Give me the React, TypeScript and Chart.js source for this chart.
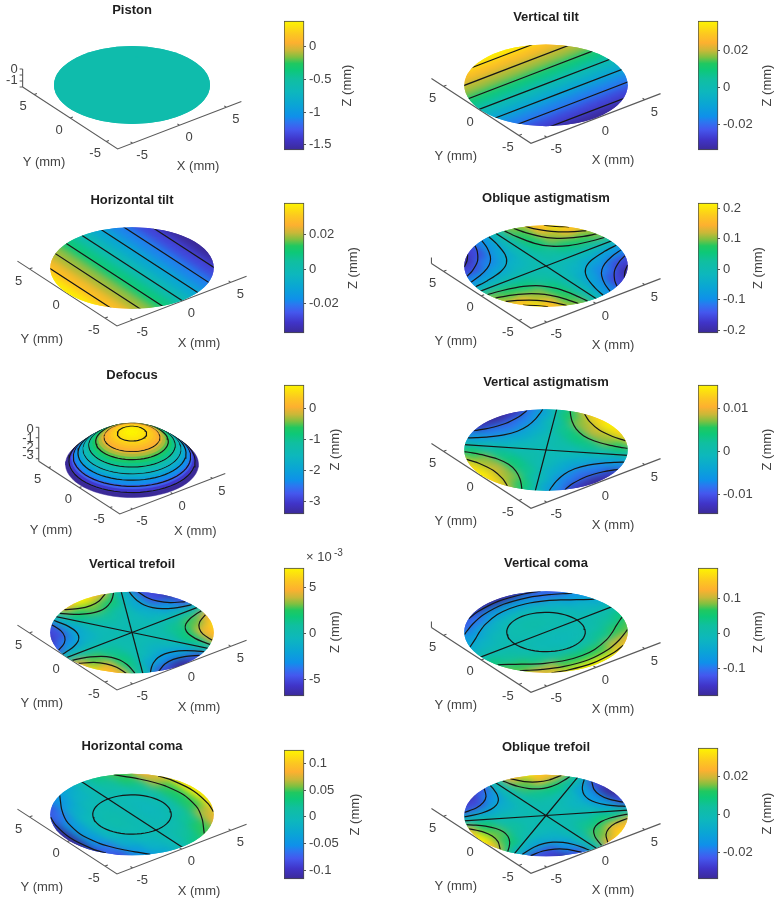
import React, { useEffect, useRef } from "react";
import { Chart, registerables } from "chart.js";

Chart.register(...registerables);

const FONT = "'Liberation Sans', Arial, sans-serif";
const TEXT = "#434343";
Chart.defaults.font.family = FONT;

const gridMm = [-6.6, -4.95, -3.3, -1.65, 0, 1.65, 3.3, 4.95, 6.6];
const coarseMm = [-6.6, 0, 6.6];
const RADIUS = 6.6;

// Z (mm) read on a grid: rows run from Y=+6.6 to Y=-6.6, columns from X=-6.6 to X=+6.6
const zPiston = [
  [-0.58, -0.58, -0.58],
  [-0.58, -0.58, -0.58],
  [-0.58, -0.58, -0.58],
];
const zVerticalTilt = [
  [.035, .035, .035, .035, .035, .035, .035, .035, .035],
  [.026, .026, .026, .026, .026, .026, .026, .026, .026],
  [.018, .018, .018, .018, .018, .018, .018, .018, .018],
  [.009, .009, .009, .009, .009, .009, .009, .009, .009],
  [0, 0, 0, 0, 0, 0, 0, 0, 0],
  [-.009, -.009, -.009, -.009, -.009, -.009, -.009, -.009, -.009],
  [-.018, -.018, -.018, -.018, -.018, -.018, -.018, -.018, -.018],
  [-.026, -.026, -.026, -.026, -.026, -.026, -.026, -.026, -.026],
  [-.035, -.035, -.035, -.035, -.035, -.035, -.035, -.035, -.035],
];
const zHorizontalTilt = [
  [.0375, .028, .019, .0095, 0, -.0095, -.019, -.028, -.0375],
  [.0375, .028, .019, .0095, 0, -.0095, -.019, -.028, -.0375],
  [.0375, .028, .019, .0095, 0, -.0095, -.019, -.028, -.0375],
  [.0375, .028, .019, .0095, 0, -.0095, -.019, -.028, -.0375],
  [.0375, .028, .019, .0095, 0, -.0095, -.019, -.028, -.0375],
  [.0375, .028, .019, .0095, 0, -.0095, -.019, -.028, -.0375],
  [.0375, .028, .019, .0095, 0, -.0095, -.019, -.028, -.0375],
  [.0375, .028, .019, .0095, 0, -.0095, -.019, -.028, -.0375],
  [.0375, .028, .019, .0095, 0, -.0095, -.019, -.028, -.0375],
];
const zObliqueAstigmatism = [
  [-.21, -.2, -.168, -.099, 0, .099, .168, .2, .21],
  [-.2, -.21, -.158, -.079, 0, .079, .158, .21, .2],
  [-.168, -.158, -.105, -.053, 0, .053, .105, .158, .168],
  [-.099, -.079, -.053, -.026, 0, .026, .053, .079, .099],
  [0, 0, 0, 0, 0, 0, 0, 0, 0],
  [.099, .079, .053, .026, 0, -.026, -.053, -.079, -.099],
  [.168, .158, .105, .053, 0, -.053, -.105, -.158, -.168],
  [.2, .21, .158, .079, 0, -.079, -.158, -.21, -.2],
  [.21, .2, .168, .099, 0, -.099, -.168, -.2, -.21],
];
const zVerticalAstigmatism = [
  [0, -.0042, -.009, -.0132, -.015, -.0132, -.009, -.0042, 0],
  [.0042, 0, -.0046, -.0075, -.0084, -.0075, -.0046, 0, .0042],
  [.009, .0046, 0, -.0029, -.0038, -.0029, 0, .0046, .009],
  [.0132, .0075, .0029, 0, -.0009, 0, .0029, .0075, .0132],
  [.015, .0084, .0038, .0009, 0, .0009, .0038, .0084, .015],
  [.0132, .0075, .0029, 0, -.0009, 0, .0029, .0075, .0132],
  [.009, .0046, 0, -.0029, -.0038, -.0029, 0, .0046, .009],
  [.0042, 0, -.0046, -.0075, -.0084, -.0075, -.0046, 0, .0042],
  [0, -.0042, -.009, -.0132, -.015, -.0132, -.009, -.0042, 0],
];
const zVerticalTrefoil = [
  [-.005, -.0024, .0013, .0052, .007, .0052, .0013, -.0024, -.005],
  [-.0065, -.005, -.001, .002, .003, .002, -.001, -.005, -.0065],
  [-.0069, -.005, -.0018, .0002, .0009, .0002, -.0018, -.005, -.0069],
  [-.0047, -.0028, -.0012, -.0002, .0001, -.0002, -.0012, -.0028, -.0047],
  [0, 0, 0, 0, 0, 0, 0, 0, 0],
  [.0047, .0028, .0012, .0002, -.0001, .0002, .0012, .0028, .0047],
  [.0069, .005, .0018, -.0002, -.0009, -.0002, .0018, .005, .0069],
  [.0065, .005, .001, -.002, -.003, -.002, .001, .005, .0065],
  [.005, .0024, -.0013, -.0052, -.007, -.0052, -.0013, .0024, .005],
];
const zObliqueTrefoil = [
  [-.0247, -.0328, -.0344, -.0234, 0, .0234, .0344, .0328, .0247],
  [-.0124, -.0247, -.0252, -.0142, 0, .0142, .0252, .0247, .0124],
  [.0062, -.0049, -.0088, -.006, 0, .006, .0088, .0049, -.0062],
  [.026, .0098, .0011, -.0011, 0, .0011, -.0011, -.0098, -.026],
  [.035, .0148, .0044, .0005, 0, -.0005, -.0044, -.0148, -.035],
  [.026, .0098, .0011, -.0011, 0, .0011, -.0011, -.0098, -.026],
  [.0062, -.0049, -.0088, -.006, 0, .006, .0088, .0049, -.0062],
  [-.0124, -.0247, -.0252, -.0142, 0, .0142, .0252, .0247, .0124],
  [-.0247, -.0328, -.0344, -.0234, 0, .0234, .0344, .0328, .0247],
];
const zVerticalComa = [
  [-.127, -.144, -.161, -.175, -.18, -.175, -.161, -.144, -.127],
  [-.108, -.127, -.102, -.069, -.058, -.069, -.102, -.127, -.108],
  [-.0805, -.068, -.032, -.01, -.002, -.01, -.032, -.068, -.0805],
  [-.044, -.023, -.005, .006, .01, .006, -.005, -.023, -.044],
  [0, 0, 0, 0, 0, 0, 0, 0, 0],
  [.044, .023, .005, -.006, -.01, -.006, .005, .023, .044],
  [.0805, .068, .032, .01, .002, .01, .032, .068, .0805],
  [.108, .127, .102, .069, .058, .069, .102, .127, .108],
  [.127, .144, .161, .175, .18, .175, .161, .144, .127],
];
const zHorizontalComa = [
  [-.085, -.072, -.054, -.029, 0, .029, .054, .072, .085],
  [-.096, -.085, -.045, -.015, 0, .015, .045, .085, .096],
  [-.107, -.068, -.021, -.003, 0, .003, .021, .068, .107],
  [-.1165, -.046, -.006, .004, 0, -.004, .006, .046, .1165],
  [-.12, -.039, -.002, .007, 0, -.007, .002, .039, .12],
  [-.1165, -.046, -.006, .004, 0, -.004, .006, .046, .1165],
  [-.107, -.068, -.021, -.003, 0, .003, .021, .068, .107],
  [-.096, -.085, -.045, -.015, 0, .015, .045, .085, .096],
  [-.085, -.072, -.054, -.029, 0, .029, .054, .072, .085],
];
// Defocus is a dome: rings of radius (mm) with their height Z (mm)
const defocusRingRadii = [6.6, 6.3, 6, 5.7, 5.4, 5.1, 4.8, 4.5, 4.2, 3.9, 3.6, 3.3, 3, 2.7, 2.4, 2.1, 1.8, 1.5, 1.2, .9, .6, .3];
const defocusRingZ = [-3.42, -3.05, -2.7, -2.36, -2.04, -1.74, -1.46, -1.19, -.94, -.71, -.49, -.29, -.11, .05, .2, .33, .44, .53, .61, .67, .72, .74];
const defocusContourRadii = [6.26, 5.82, 5.36, 4.84, 4.28, 3.6, 2.75, 1.45];
const defocusContourZ = [-3, -2.5, -2, -1.5, -1, -.5, 0, .5];

// Contour lines, in mm
const verticalTiltLinesY = [5.9, 4, 2.1, .2, -1.7, -3.6, -5.5];
const horizontalTiltLinesX = [-5.3, -3.5, -1.8, 0, 1.8, 3.5, 5.3];
const obliqueAstQuadrant = [
  [[.79, 6.55], [1, 5.2], [1.5, 3.47], [2.28, 2.28], [3.47, 1.5], [5.2, 1], [6.55, .79]],
  [[1.62, 6.4], [2, 5.2], [2.6, 4], [3.22, 3.22], [4, 2.6], [5.2, 2], [6.4, 1.62]],
  [[2.56, 6.08], [3, 5.2], [3.95, 3.95], [5.2, 3], [6.08, 2.56]],
  [[3.88, 5.34], [4.55, 4.55], [5.34, 3.88]],
];
const verticalAstLobe = [
  [[3.81, 0], [4, 1.22], [4.5, 2.4], [5, 3.24], [5.39, 3.81]],
  [[5.39, 0], [5.6, 1.54], [5.9, 2.41], [6.02, 2.7]],
];
const verticalComaLobe = [
  [[4.79, 0], [4.62, 1.41], [3.96, 3.14], [3.3, 4.22], [2.64, 5.13], [1.98, 6.1], [1.83, 6.34]],
  [[5.64, 0], [5.28, 2.32], [4.62, 3.91], [3.96, 5.04], [3.66, 5.49]],
  [[6.27, 0], [5.94, 2.4], [5.49, 3.66]],
];
const horizontalComaLobe = [
  [[5.25, 0], [4.95, 2.03], [4.62, 2.93], [3.96, 4.19], [3.3, 5.19], [2.75, 6]],
  [[6.27, 0], [5.94, 2.39], [5.48, 3.67]],
];
const comaRingRadius = 3.17;
// Trefoil lobes: [radius / rim radius, degrees from the lobe's axis]
const trefoilLobe = [
  [[.659, 0], [.691, 10], [.786, 18], [.889, 22], [1, 24.5]],
  [[.83, 0], [.87, 10], [1, 18.4]],
];
const verticalTrefoilAxes = [30, 90, 150, 210, 270, 330];
const verticalTrefoilNodes = [0, 60, 120];
const obliqueTrefoilAxes = [0, 60, 120, 180, 240, 300];
const obliqueTrefoilNodes = [30, 90, 150];

const axisTicks = [-5, 0, 5];

// Colormap: [position, colour]
const colormap: [number, string][] = [
  [0, "#3b2a98"], [.08, "#4034c8"], [.16, "#4458ee"], [.22, "#2a78f0"], [.26, "#0f90ea"],
  [.35, "#0aa5d5"], [.45, "#0db7bd"], [.55, "#10bfa0"], [.62, "#0dc878"], [.67, "#20c860"],
  [.72, "#80c040"], [.77, "#c8b838"], [.83, "#fdb030"], [.9, "#fcc820"], [1, "#fdf500"],
];

const hexRgb = (h: string) => [1, 3, 5].map((i) => parseInt(h.slice(i, i + 2), 16));
function colorAt(f: number) {
  const t = Math.min(1, Math.max(0, f));
  for (let i = 1; i < colormap.length; i++) {
    if (t <= colormap[i][0]) {
      const [p0, c0] = colormap[i - 1];
      const [p1, c1] = colormap[i];
      const k = (t - p0) / (p1 - p0);
      const a = hexRgb(c0), b = hexRgb(c1);
      return `rgb(${a.map((v, j) => Math.round(v + (b[j] - v) * k)).join(",")})`;
    }
  }
  return colormap[colormap.length - 1][1];
}

const VX = [0.793, 0.304];
const VY = [-0.609, 0.397];
const project = (X: number, Y: number) => ({ x: VX[0] * X + VY[0] * Y, y: VX[1] * X + VY[1] * Y });

type Pt = number[];
const sym = (half: Pt[]) => [...half.slice(1).reverse().map(([a, b]) => [a, -b]), ...half];
const straight = (deg: number) => {
  const c = Math.cos((deg * Math.PI) / 180) * 8, s = Math.sin((deg * Math.PI) / 180) * 8;
  return [[-c, -s], [c, s]];
};
const circle = (r: number) =>
  Array.from({ length: 61 }, (_, i) => [r * Math.cos((i * Math.PI) / 30), r * Math.sin((i * Math.PI) / 30)]);
const signs = [1, -1];

const contoursVerticalTilt = verticalTiltLinesY.map((y) => [[-8, y], [8, y]]);
const contoursHorizontalTilt = horizontalTiltLinesX.map((x) => [[x, -8], [x, 8]]);
const contoursObliqueAst = [
  straight(0), straight(90),
  ...obliqueAstQuadrant.flatMap((c) =>
    signs.flatMap((a) => signs.map((b) => c.map(([x, y]) => [a * x, b * y])))),
];
const contoursVerticalAst = [
  straight(45), straight(-45),
  ...verticalAstLobe.flatMap((h) =>
    signs.flatMap((s) => [sym(h).map(([a, b]) => [s * a, b]), sym(h).map(([a, b]) => [b, s * a])])),
];
const trefoil = (axes: number[], nodes: number[]) => [
  ...nodes.map(straight),
  ...trefoilLobe.flatMap((h) =>
    axes.map((t) =>
      sym(h).map(([r, d]) => {
        const a = ((t + d) * Math.PI) / 180;
        return [RADIUS * r * Math.cos(a), RADIUS * r * Math.sin(a)];
      }))),
];
const contoursVerticalComa = [
  straight(0), circle(comaRingRadius),
  ...verticalComaLobe.flatMap((h) => signs.map((s) => sym(h).map(([a, b]) => [b, s * a]))),
];
const contoursHorizontalComa = [
  straight(90), circle(comaRingRadius),
  ...horizontalComaLobe.flatMap((h) => signs.map((s) => sym(h).map(([a, b]) => [s * a, b]))),
];

const panels: any[] = [
  { title: "Piston", grid: coarseMm, z: zPiston, contours: [], range: [-1.58, .39], ticks: [0, -.5, -1, -1.5], tickLabels: ["0", "-0.5", "-1", "-1.5"],
    layout: { tY: 10, cx: 132, cy: 85, s: 11.82, cornerY: 149, bar: [284, 21, 150], zX: 347 },
    zAxis: { top: 18, marks: [0, 6, 12, 18], labels: [["0", 18], ["-1", 7]] } },
  { title: "Vertical tilt", grid: gridMm, z: zVerticalTilt, contours: contoursVerticalTilt, range: [-.034, .0357], ticks: [.02, 0, -.02], tickLabels: ["0.02", "0", "-0.02"],
    layout: { tY: 17, cx: 546, cy: 85.3, s: 12.38, cornerY: 143.3, bar: [698, 21, 150], zX: 767 } },
  { title: "Horizontal tilt", grid: gridMm, z: zHorizontalTilt, contours: contoursHorizontalTilt, range: [-.0368, .0383], ticks: [.02, 0, -.02], tickLabels: ["0.02", "0", "-0.02"],
    layout: { tY: 200, cx: 132, cy: 268, s: 12.38, cornerY: 326, bar: [284, 203, 333], zX: 353 } },
  { title: "Oblique astigmatism", grid: gridMm, z: zObliqueAstigmatism, contours: contoursObliqueAst, range: [-.2095, .218], ticks: [.2, .1, 0, -.1, -.2], tickLabels: ["0.2", "0.1", "0", "-0.1", "-0.2"],
    layout: { tY: 198, cx: 546, cy: 266, s: 12.38, cornerY: 328.3, bar: [698, 203, 333], zX: 758 },
    zAxis: { top: 6, marks: [], labels: [] } },
  { title: "Defocus", dome: true, range: [-3.42, .75], ticks: [0, -1, -2, -3], tickLabels: ["0", "-1", "-2", "-3"],
    layout: { tY: 375, cx: 132, cy: 461, s: 10.08, cornerY: 514, bar: [284, 385, 514], zX: 335 },
    zAxis: { top: 34, marks: [0, 10.5, 21, 31.5].map((v) => 34 - v), labels: [["0", 32], ["-1", 23], ["-2", 14], ["-3", 6]] } },
  { title: "Vertical astigmatism", grid: gridMm, z: zVerticalAstigmatism, contours: contoursVerticalAst, range: [-.01446, .01533], ticks: [.01, 0, -.01], tickLabels: ["0.01", "0", "-0.01"],
    layout: { tY: 382, cx: 546, cy: 450, s: 12.38, cornerY: 508.3, bar: [698, 385, 514], zX: 767 } },
  { title: "Vertical trefoil", grid: gridMm, z: zVerticalTrefoil, contours: trefoil(verticalTrefoilAxes, verticalTrefoilNodes), range: [-.00682, .00711], ticks: [.005, 0, -.005], tickLabels: ["5", "0", "-5"], multiplier: "-3",
    layout: { tY: 564, cx: 132, cy: 632.5, s: 12.38, cornerY: 690, bar: [284, 568, 696], zX: 335 } },
  { title: "Vertical coma", grid: gridMm, z: zVerticalComa, contours: contoursVerticalComa, range: [-.179, .186], ticks: [.1, 0, -.1], tickLabels: ["0.1", "0", "-0.1"],
    layout: { tY: 563, cx: 546, cy: 632, s: 12.38, cornerY: 692.3, bar: [698, 568, 696], zX: 758 },
    zAxis: { top: 6, marks: [], labels: [] } },
  { title: "Horizontal coma", grid: gridMm, z: zHorizontalComa, contours: contoursHorizontalComa, range: [-.1167, .125], ticks: [.1, .05, 0, -.05, -.1], tickLabels: ["0.1", "0.05", "0", "-0.05", "-0.1"],
    layout: { tY: 746, cx: 132, cy: 814.5, s: 12.38, cornerY: 874, bar: [284, 750, 879], zX: 355 } },
  { title: "Oblique trefoil", grid: gridMm, z: zObliqueTrefoil, contours: trefoil(obliqueTrefoilAxes, obliqueTrefoilNodes), range: [-.0337, .0351], ticks: [.02, 0, -.02], tickLabels: ["0.02", "0", "-0.02"],
    layout: { tY: 747, cx: 546, cy: 815.5, s: 12.38, cornerY: 873.3, bar: [698, 748, 879], zX: 767 } },
];

const CANVAS_W = 264;
const DOME_KZ = 7.8;

const spriteCache = new Map<string, HTMLCanvasElement>();
function cellSprite(color: string, stepPx: number) {
  const key = color + stepPx;
  const hit = spriteCache.get(key);
  if (hit) return hit;
  const half = stepPx / 2 * 1.06;
  const a = [VX[0] * half, VX[1] * half];
  const b = [VY[0] * half, VY[1] * half];
  const w = Math.ceil(2 * (Math.abs(a[0]) + Math.abs(b[0]))) + 2;
  const h = Math.ceil(2 * (Math.abs(a[1]) + Math.abs(b[1]))) + 2;
  const c = document.createElement("canvas");
  c.width = w; c.height = h;
  const g = c.getContext("2d")!;
  g.translate(w / 2, h / 2);
  g.fillStyle = color;
  g.beginPath();
  g.moveTo(a[0] + b[0], -(a[1] + b[1]));
  g.lineTo(a[0] - b[0], -(a[1] - b[1]));
  g.lineTo(-a[0] - b[0], -(-a[1] - b[1]));
  g.lineTo(-a[0] + b[0], -(-a[1] + b[1]));
  g.closePath();
  g.fill();
  spriteCache.set(key, c);
  return c;
}

function drawAxes(chart: any, p: any) {
  const { ctx, scales } = chart;
  const { s, cornerY, cy } = p.layout;
  const floor = cornerY - (cy + 0.701 * RADIUS * s);
  const at = (X: number, Y: number) => {
    const q = project(X, Y);
    return [scales.x.getPixelForValue(q.x), scales.y.getPixelForValue(q.y) + floor];
  };
  const c = at(-RADIUS, -RADIUS), xe = at(RADIUS, -RADIUS), ye = at(-RADIUS, RADIUS);
  ctx.save();
  ctx.strokeStyle = "#5a5a5a";
  ctx.lineWidth = 1.1;
  ctx.beginPath();
  ctx.moveTo(ye[0], ye[1]); ctx.lineTo(c[0], c[1]); ctx.lineTo(xe[0], xe[1]);
  if (p.zAxis) { ctx.moveTo(ye[0], ye[1]); ctx.lineTo(ye[0], ye[1] - p.zAxis.top); }
  const tick = 0.3;
  axisTicks.forEach((v) => {
    const a = at(v, -RADIUS), a2 = at(v, -RADIUS + tick);
    ctx.moveTo(a[0], a[1]); ctx.lineTo(a2[0], a2[1]);
    const b = at(-RADIUS, v), b2 = at(-RADIUS + tick, v);
    ctx.moveTo(b[0], b[1]); ctx.lineTo(b2[0], b2[1]);
  });
  if (p.zAxis) p.zAxis.marks.forEach((m: number) => {
    ctx.moveTo(ye[0], ye[1] - m); ctx.lineTo(ye[0] - 3, ye[1] - m);
  });
  ctx.stroke();
  ctx.fillStyle = TEXT;
  ctx.font = `13px ${FONT}`;
  ctx.textAlign = "center";
  ctx.textBaseline = "middle";
  axisTicks.forEach((v) => {
    const a = at(v, -RADIUS);
    ctx.fillText(String(v), a[0] + 9.5, a[1] + 12.5);
    const b = at(-RADIUS, v);
    ctx.fillText(String(v), b[0] - 11, b[1] + 12);
  });
  ctx.fillText("X (mm)", c[0] + 47 + 2.83 * s, c[1] + 17.5);
  ctx.fillText("Y (mm)", c[0] - 40 - 2.85 * s, c[1] + 13 + (12.38 - s) * 1.3);
  if (p.zAxis) {
    ctx.textAlign = "right";
    p.zAxis.labels.forEach(([t, up]: [string, number]) => ctx.fillText(t, ye[0] - 5, ye[1] - up));
  }
  ctx.restore();
}

function discPath(chart: any, p: any) {
  const { ctx, scales } = chart;
  const R = RADIUS * p.layout.s;
  ctx.beginPath();
  ctx.ellipse(scales.x.getPixelForValue(0), scales.y.getPixelForValue(0), R, R / 2, 0, 0, Math.PI * 2);
}

function SurfacePanel({ p }: { p: any }) {
  const ref = useRef<HTMLCanvasElement>(null);
  const { tY, cx, cy, s, cornerY } = p.layout;
  const top = Math.round(tY - 7);
  const height = Math.round(cornerY + 30 - top);
  const left = Math.round(cx - CANVAS_W / 2);

  useEffect(() => {
    const [lo, hi] = p.range;
    const color = (z: number) => colorAt((z - lo) / (hi - lo));
    let datasets: any[] = [];
    if (p.dome) {
      const lift = (z: number) => ((z + 3) * DOME_KZ) / s;
      const ring = (r: number, z: number) =>
        circle(r).map(([X, Y]) => {
          const q = project(X, Y);
          return { x: q.x, y: q.y + lift(z) };
        });
      const items: any[] = [];
      defocusRingRadii.forEach((r, i) => items.push({ r, z: defocusRingZ[i], fill: true }));
      defocusContourRadii.forEach((r, i) => items.push({ r, z: defocusContourZ[i], fill: false }));
      items.sort((a, b) => b.r - a.r);
      datasets = items.map((it, i) => ({
        type: "scatter", showLine: true, clip: false, pointRadius: 0, order: items.length - i,
        data: ring(it.r, it.z),
        fill: it.fill ? "shape" : false,
        backgroundColor: color(it.z),
        borderColor: it.fill ? color(it.z) : "#161616",
        borderWidth: it.fill ? 0.5 : 1.2,
      }));
    } else {
      const step = (p.grid[1] - p.grid[0]) * s;
      const rows = p.grid.slice().reverse();
      const pts: any[] = [], styles: any[] = [];
      rows.forEach((Y: number, r: number) =>
        p.grid.forEach((X: number, c: number) => {
          pts.push(project(X, Y));
          styles.push(cellSprite(color(p.z[r][c]), step));
        }));
      datasets = [
        { type: "scatter", clip: 0, order: 1000, data: pts, pointStyle: styles, pointRadius: 5, showLine: false },
        ...p.contours.map((line: number[][]) => ({
          type: "scatter", showLine: true, clip: false, pointRadius: 0, order: 1, tension: line.length > 20 ? 0 : 0.3,
          data: line.map(([X, Y]) => project(X, Y)),
          borderColor: "#161616", borderWidth: 1.2, fill: false,
        })),
      ];
    }
    const fx = {
      id: "surfaceFx",
      beforeDatasetsDraw(chart: any) {
        if (p.dome) drawAxes(chart, p);
      },
      beforeDatasetDraw(chart: any, args: any) {
        if (p.dome || args.index === 0) return;
        chart.ctx.save();
        discPath(chart, p);
        chart.ctx.clip();
      },
      afterDatasetDraw(chart: any, args: any) {
        if (p.dome) return;
        const { ctx, chartArea, canvas } = chart;
        if (args.index > 0) { ctx.restore(); return; }
        const off = document.createElement("canvas");
        off.width = canvas.width; off.height = canvas.height;
        off.getContext("2d")!.drawImage(canvas, 0, 0);
        const clearTop = Math.floor(chartArea.top) - 1;
        ctx.clearRect(chartArea.left, clearTop, chartArea.right - chartArea.left, chartArea.bottom - clearTop);
        drawAxes(chart, p);
        ctx.save();
        discPath(chart, p);
        ctx.clip();
        ctx.drawImage(off, 0, 0);
        ctx.filter = "blur(4.5px)";
        ctx.drawImage(off, 0, 0);
        ctx.restore();
      },
    };
    const halfW = CANVAS_W / 2 / s;
    const offX = (cx - left - CANVAS_W / 2) / s;
    const chart = new Chart(ref.current!, {
      type: "scatter",
      data: { datasets },
      plugins: [fx],
      options: {
        responsive: false, animation: false, devicePixelRatio: 1, events: [],
        layout: { padding: 0, autoPadding: false },
        plugins: {
          legend: { display: false }, tooltip: { enabled: false },
          title: { display: true, text: p.title, color: "#1e1e1e", padding: 0, font: { size: 13, weight: "bold", family: FONT, lineHeight: 1.2 } },
        },
        scales: {
          x: { type: "linear", display: false, bounds: "data", min: -halfW - offX, max: halfW - offX },
          y: { type: "linear", display: false, bounds: "data", min: (cy - top - height) / s, max: (cy - top - 16) / s },
        },
      },
    } as any);
    // The title takes part of the canvas: fit the Y range to the final plot area.
    const area = chart.chartArea;
    (chart.options.scales as any).y.min = (cy - top - area.bottom) / s;
    (chart.options.scales as any).y.max = (cy - top - area.top) / s;
    chart.update();
    return () => chart.destroy();
  }, []);

  return <canvas ref={ref} width={CANVAS_W} height={height} style={{ position: "absolute", left, top }} />;
}

const BAR_W = 20;
const BAR_CANVAS_W = 82;
const BAR_PAD = 24;

function ColorBar({ p }: { p: any }) {
  const ref = useRef<HTMLCanvasElement>(null);
  const [barLeft, barTop, barBottom] = p.layout.bar;
  const height = barBottom - barTop + BAR_PAD * 2;

  useEffect(() => {
    const labelPlugin = {
      id: "barLabels",
      afterDraw(chart: any) {
        const { ctx, chartArea } = chart;
        ctx.save();
        ctx.fillStyle = TEXT;
        ctx.font = `13px ${FONT}`;
        ctx.textAlign = "center";
        ctx.textBaseline = "middle";
        ctx.translate(p.layout.zX - barLeft, (chartArea.top + chartArea.bottom) / 2);
        ctx.rotate(-Math.PI / 2);
        ctx.fillText("Z (mm)", 0, 0);
        ctx.restore();
        if (p.multiplier) {
          ctx.save();
          ctx.fillStyle = TEXT;
          ctx.textBaseline = "middle";
          ctx.textAlign = "left";
          ctx.font = `13px ${FONT}`;
          ctx.fillText("× 10", 22, chartArea.top - 11);
          ctx.font = `10px ${FONT}`;
          ctx.fillText(p.multiplier, 50, chartArea.top - 15);
          ctx.restore();
        }
      },
    };
    const chart = new Chart(ref.current!, {
      type: "bar",
      data: {
        labels: ["Z"],
        datasets: [{
          data: [p.range],
          barPercentage: 1, categoryPercentage: 1,
          borderColor: "#4a4a4a", borderWidth: 1, borderSkipped: false, clip: false,
          backgroundColor: (c: any) => {
            const area = c.chart.chartArea;
            if (!area) return "#888";
            const g = c.chart.ctx.createLinearGradient(0, area.bottom, 0, area.top);
            colormap.forEach(([pos, col]) => g.addColorStop(pos, col));
            return g;
          },
        }],
      },
      plugins: [labelPlugin],
      options: {
        responsive: false, animation: false, devicePixelRatio: 1, events: [],
        layout: { padding: { top: BAR_PAD, bottom: BAR_PAD } },
        plugins: { legend: { display: false }, tooltip: { enabled: false } },
        scales: {
          x: { display: false },
          y: {
            position: "right", min: p.range[0], max: p.range[1], bounds: "data",
            afterBuildTicks: (axis: any) => { axis.ticks = p.ticks.map((value: number) => ({ value })); },
            afterFit: (scale: any) => { scale.width = BAR_CANVAS_W - BAR_W; },
            border: { display: false },
            grid: { drawOnChartArea: false, drawTicks: true, tickLength: 2, color: "#555", lineWidth: 1 },
            ticks: {
              autoSkip: false, padding: 3, color: TEXT, font: { size: 13, family: FONT },
              callback: (_v: any, i: number) => p.tickLabels[i],
            },
          },
        },
      },
    } as any);
    return () => chart.destroy();
  }, []);

  return <canvas ref={ref} width={BAR_CANVAS_W} height={height} style={{ position: "absolute", left: barLeft, top: barTop - BAR_PAD }} />;
}

export default function App() {
  return (
    <div style={{ position: "absolute", left: 0, top: 0, width: 780, height: 903, overflow: "hidden", background: "#fff", filter: "blur(0.3px)" }}>
      {panels.map((p) => <SurfacePanel key={p.title} p={p} />)}
      {panels.map((p) => <ColorBar key={p.title + "-bar"} p={p} />)}
    </div>
  );
}
